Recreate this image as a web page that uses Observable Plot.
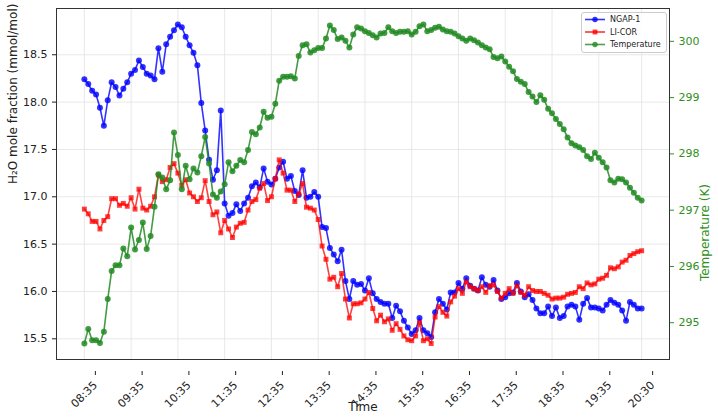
<!DOCTYPE html>
<html><head><meta charset="utf-8">
<script src="https://cdn.jsdelivr.net/npm/d3@7"></script>
<script src="https://cdn.jsdelivr.net/npm/@observablehq/plot@0.6"></script>
<style>
body{margin:0;background:#fff;}
#wrap{position:relative;width:718px;height:418px;font-family:"DejaVu Sans",sans-serif;}
#wrap > svg{position:absolute;left:0;top:0;}
</style></head><body><div id="wrap"></div>
<script>
const seriesNames = ["NGAP-1", "LI-COR", "Temperature"];
const axisTitles = {x: "Time", y: "H₂O mole fraction (mmol/mol)", y2: "Temperature (K)"};
const startTime = "08:35";
const stepMinutes = 5;
const tickLabels = ["08:35","09:35","10:35","11:35","12:35","13:35","14:35","15:35","16:35","17:35","18:35","19:35","20:30"];
const h2oTicks = [15.5, 16.0, 16.5, 17.0, 17.5, 18.0, 18.5];
const tempTicks = [295, 296, 297, 298, 299, 300];

const ngap = [18.24,18.19,18.12,18.08,17.94,17.75,18.02,18.21,18.16,18.07,18.14,18.21,18.30,18.34,18.44,18.37,18.30,18.28,18.24,18.57,18.32,18.61,18.69,18.76,18.82,18.79,18.69,18.60,18.52,18.39,17.99,17.70,17.39,17.18,17.28,17.91,16.93,16.80,16.83,16.92,16.85,16.93,16.99,17.11,17.15,17.10,17.30,17.16,17.13,17.19,17.31,17.37,17.19,17.22,17.06,17.02,17.28,16.99,17.00,17.05,17.00,16.68,16.67,16.46,16.39,16.32,16.44,16.11,15.92,16.11,16.07,16.08,16.01,16.14,15.98,15.92,15.89,15.87,15.87,15.72,15.85,15.79,15.69,15.62,15.55,15.59,15.72,15.59,15.56,15.52,15.78,15.92,15.87,15.81,15.99,15.99,16.09,16.03,16.14,16.06,16.03,16.01,16.15,16.07,16.05,16.12,16.01,15.92,15.94,15.98,15.99,16.09,16.00,15.94,15.97,15.91,15.82,15.77,15.77,15.84,15.74,15.83,15.72,15.74,15.84,15.86,15.84,15.70,15.87,15.93,15.83,15.83,15.82,15.80,15.86,15.91,15.88,15.86,15.80,15.69,15.89,15.86,15.82,15.82];

const licor = [16.87,16.82,16.74,16.74,16.66,16.75,16.79,16.98,16.98,16.91,16.93,16.90,16.99,16.87,17.08,16.88,16.86,16.90,17.00,17.23,17.16,17.18,17.31,17.35,17.25,17.12,17.18,17.04,17.00,16.95,16.99,17.17,16.95,16.81,16.84,16.62,16.75,16.66,16.57,16.68,16.72,16.73,16.86,16.95,16.97,17.09,17.14,16.96,17.00,17.19,17.39,17.25,17.07,17.07,16.95,17.03,17.14,16.89,16.88,16.86,16.76,16.48,16.34,16.13,16.15,16.05,16.19,15.92,15.72,15.87,15.87,15.88,15.92,15.99,15.82,15.69,15.75,15.68,15.71,15.59,15.66,15.60,15.53,15.49,15.48,15.53,15.67,15.48,15.50,15.45,15.73,15.84,15.78,15.74,15.89,15.95,16.03,15.98,16.10,16.05,16.03,16.01,16.05,15.99,16.06,16.07,16.00,15.93,15.98,16.03,15.98,16.06,15.99,15.96,16.05,16.01,16.00,16.00,15.98,15.96,15.92,15.93,15.93,15.94,15.97,15.98,15.99,16.05,16.03,16.09,16.07,16.08,16.13,16.14,16.17,16.25,16.24,16.26,16.31,16.33,16.38,16.40,16.42,16.43];

const temperature = [294.63,294.89,294.69,294.69,294.64,294.84,295.42,295.92,296.02,296.02,296.32,296.18,296.69,296.30,296.47,296.78,296.31,296.54,297.06,297.64,297.58,297.37,297.53,298.38,297.98,297.37,297.79,297.55,297.74,297.67,297.96,298.30,297.83,297.28,297.22,297.33,297.46,297.85,297.69,297.79,297.89,297.85,298.07,298.39,298.35,298.47,298.75,298.64,298.66,298.89,299.30,299.37,299.37,299.38,299.34,299.74,299.93,299.95,299.80,299.84,299.88,299.88,300.05,300.28,300.20,300.04,300.07,300.01,299.89,300.12,300.25,300.23,300.18,300.15,300.11,300.07,300.14,300.15,300.25,300.18,300.15,300.17,300.17,300.18,300.12,300.17,300.27,300.30,300.18,300.20,300.24,300.26,300.21,300.18,300.17,300.14,300.09,300.05,300.01,300.05,300.02,299.98,299.93,299.89,299.86,299.72,299.70,299.73,299.64,299.55,299.47,299.33,299.28,299.24,299.10,299.02,298.92,299.04,298.96,298.80,298.72,298.62,298.53,298.44,298.29,298.19,298.15,298.12,298.07,297.96,297.91,298.02,297.93,297.85,297.76,297.53,297.49,297.56,297.55,297.49,297.40,297.31,297.22,297.17];

const colors = ["#0000ff", "#ff0000", "#228b22"];
const tempText = "#2f8f22";

const parseHM = d3.utcParse("%H:%M");
const fmtHM = d3.utcFormat("%H:%M");
const t0 = parseHM(startTime);
const times = ngap.map((_, i) => d3.utcMinute.offset(t0, i * stepMinutes));
const tickDates = tickLabels.map(parseHM);
const pad = (times[times.length - 1] - times[0]) * 0.05;
const xDomain = [new Date(+times[0] - pad), new Date(+times[times.length - 1] + pad)];

const rows = times.map((t, i) => ({t, ngap: ngap[i], licor: licor[i], temp: temperature[i]}));

const W = 718, H = 418;
const margins = {marginLeft: 56, marginRight: 49, marginTop: 8, marginBottom: 59};
const font = {fontFamily: "DejaVu Sans, sans-serif", fontSize: "11px"};

const h2oMin = d3.min([...ngap, ...licor]), h2oMax = d3.max([...ngap, ...licor]);
const h2oPad = (h2oMax - h2oMin) * 0.05;
const tMin = d3.min(temperature), tMax = d3.max(temperature);
const tPad = (tMax - tMin) * 0.05;

const main = Plot.plot({
  width: W, height: H, ...margins,
  style: {...font, background: "white", color: "#222"},
  x: {type: "utc", domain: xDomain},
  y: {domain: [h2oMin - h2oPad, h2oMax + h2oPad]},
  marks: [
    Plot.gridY(h2oTicks, {stroke: "#e2e2e2", strokeOpacity: 1, strokeWidth: 0.8}),
    Plot.gridX(tickDates, {stroke: "#e2e2e2", strokeOpacity: 1, strokeWidth: 0.8}),
    Plot.line(rows, {x: "t", y: "ngap", stroke: colors[0], strokeWidth: 1.6, strokeOpacity: 0.8}),
    Plot.dot(rows, {x: "t", y: "ngap", r: 3, fill: colors[0], fillOpacity: 0.8, stroke: null}),
    Plot.line(rows, {x: "t", y: "licor", stroke: colors[1], strokeWidth: 1.6, strokeOpacity: 0.75}),
    Plot.dot(rows, {x: "t", y: "licor", symbol: "square", r: 2.8, fill: colors[1], fillOpacity: 0.75, stroke: null}),
    Plot.axisY(h2oTicks, {anchor: "left", tickSize: 4, tickFormat: d3.format(".1f"), fontSize: 11, label: null}),
    Plot.axisX(tickDates, {anchor: "bottom", tickSize: 4, tickFormat: fmtHM, tickRotate: -45, fontSize: 11,
      dx: 11, dy: 12, label: null}),
    Plot.text([axisTitles.y], {frameAnchor: "left", rotate: -90, dx: -43, fontSize: 12, fill: "#222"}),
    Plot.text([axisTitles.x], {frameAnchor: "bottom", dy: 51, fontSize: 12, fill: "#222"})
  ]
});

const overlay = Plot.plot({
  width: W, height: H, ...margins,
  style: {...font, background: "transparent"},
  x: {type: "utc", domain: xDomain, axis: null},
  y: {domain: [tMin - tPad, tMax + tPad], axis: null},
  marks: [
    Plot.line(rows, {x: "t", y: "temp", stroke: colors[2], strokeWidth: 1.6, strokeOpacity: 0.85}),
    Plot.dot(rows, {x: "t", y: "temp", r: 3, fill: colors[2], fillOpacity: 0.85, stroke: null}),
    Plot.axisY(tempTicks, {anchor: "right", tickSize: 4, color: tempText, fontSize: 11,
      tickFormat: d3.format("d"), label: null}),
    Plot.text([axisTitles.y2], {frameAnchor: "right", rotate: -90, dx: 36, fontSize: 12, fill: tempText}),
    Plot.frame({stroke: "#333", strokeWidth: 1})
  ]
});

const wrap = document.getElementById("wrap");
wrap.appendChild(main);
wrap.appendChild(overlay);

// legend
const lg = d3.select(wrap).append("svg")
  .attr("width", 88).attr("height", 43)
  .style("position", "absolute").style("left", "580px").style("top", "11px")
  .style("font-family", "DejaVu Sans, sans-serif");
lg.append("rect").attr("x", 1.5).attr("y", 1.5).attr("width", 85).attr("height", 40).attr("rx", 2.5)
  .attr("fill", "white").attr("fill-opacity", 0.85).attr("stroke", "#cccccc");
const symbols = ["circle", "square", "circle"];
seriesNames.forEach((name, i) => {
  const y = 8.5 + i * 12.5;
  const g = lg.append("g").attr("transform", `translate(0,${y})`);
  g.append("line").attr("x1", 5).attr("x2", 25).attr("y1", 0).attr("y2", 0)
    .attr("stroke", colors[i]).attr("stroke-width", 1.6).attr("stroke-opacity", 0.8);
  if (symbols[i] === "circle") g.append("circle").attr("cx", 15).attr("cy", 0).attr("r", 2.7).attr("fill", colors[i]).attr("fill-opacity", 0.8);
  else g.append("rect").attr("x", 12.6).attr("y", -2.4).attr("width", 4.8).attr("height", 4.8).attr("fill", colors[i]).attr("fill-opacity", 0.8);
  g.append("text").attr("x", 30).attr("y", 0).attr("dy", "0.35em").attr("font-size", 8).attr("fill", "#222").text(name);
});
</script></body></html>
